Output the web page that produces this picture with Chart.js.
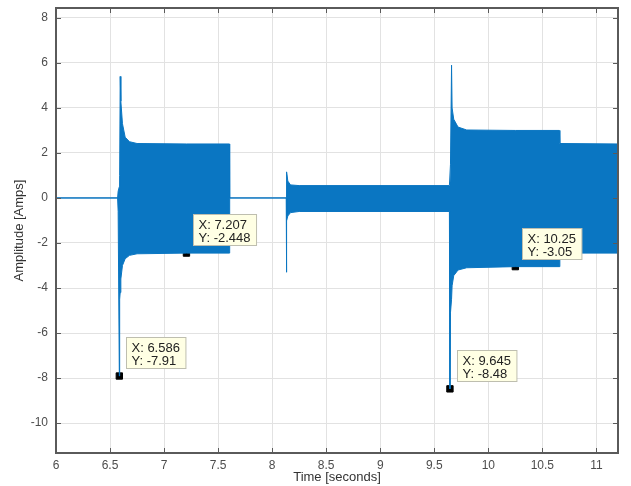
<!DOCTYPE html>
<html>
<head>
<meta charset="utf-8">
<script src="https://cdn.jsdelivr.net/npm/chart.js@4.4.0/dist/chart.umd.min.js"></script>
<style>
  body { margin: 0; background: #fff; }
  #chart { display: block; }
</style>
</head>
<body>
<canvas id="chart" width="631" height="486"></canvas>
<script>
// envelope of the current waveform
const times = [6.000, 6.570, 6.575, 6.586, 6.589, 6.594, 6.600, 6.615, 6.640, 6.680, 6.750, 7.207, 7.605,
               7.607, 8.130, 8.132, 8.135, 8.145, 8.170, 8.250, 9.640, 9.645, 9.650, 9.660, 9.665, 9.680,
               9.720, 9.800, 10.250, 10.657, 10.662, 11.200];
const upper = [0, 0, 0.3, 0.5, 1.0, 5.4, 4.3, 3.3, 2.7, 2.5, 2.42, 2.4, 2.4,
               0, 0, 0.2, 1.16, 0.75, 0.58, 0.55, 0.55, 0.55, 1.5, 5.9, 4.0, 3.5,
               3.15, 3.02, 3.0, 3.0, 2.42, 2.4];
const lower = [0, 0, -0.6, -7.91, -4.5, -4.2, -3.6, -3.0, -2.7, -2.55, -2.48, -2.45, -2.45,
               0, 0, -3.3, -1.0, -0.8, -0.65, -0.6, -0.6, -8.48, -5.1, -4.5, -3.9, -3.45,
               -3.2, -3.1, -3.05, -3.05, -2.45, -2.45];

// data tips
const tipX = [6.586, 7.207, 9.645, 10.25];
const tipY = [-7.91, -2.448, -8.48, -3.05];

const xTicks = [6, 6.5, 7, 7.5, 8, 8.5, 9, 9.5, 10, 10.5, 11];
const yTicks = [-10, -8, -6, -4, -2, 0, 2, 4, 6, 8];

const blue = 'rgb(10,118,194)';
const axisGrey = '#5a5a5a';

// box round the plot and inward ticks, matlab style
const boxPlugin = {
  id: 'box',
  afterDatasetsDraw(c) {
    const {ctx, chartArea: a, scales} = c;
    ctx.save();
    ctx.strokeStyle = axisGrey;
    ctx.lineWidth = 1;
    xTicks.forEach(v => {
      const px = Math.round(scales.x.getPixelForValue(v)) + 0.5;
      ctx.beginPath();
      ctx.moveTo(px, a.bottom); ctx.lineTo(px, a.bottom - 5);
      ctx.moveTo(px, a.top); ctx.lineTo(px, a.top + 5);
      ctx.stroke();
    });
    yTicks.forEach(v => {
      const py = Math.round(scales.y.getPixelForValue(v)) + 0.5;
      ctx.beginPath();
      ctx.moveTo(a.left, py); ctx.lineTo(a.left + 5, py);
      ctx.moveTo(a.right, py); ctx.lineTo(a.right - 5, py);
      ctx.stroke();
    });
    ctx.lineWidth = 2;
    ctx.strokeRect(a.left, a.top, a.right - a.left, a.bottom - a.top);
    ctx.restore();
  }
};

// yellow data tip boxes
const tipPlugin = {
  id: 'tips',
  afterDraw(c) {
    const {ctx, scales} = c;
    ctx.save();
    ctx.font = '13px "Liberation Sans", Arial, sans-serif';
    tipX.forEach((x, i) => {
      const mx = scales.x.getPixelForValue(x);
      const my = scales.y.getPixelForValue(tipY[i]);
      const l1 = 'X: ' + x;
      const l2 = 'Y: ' + tipY[i];
      const w = Math.max(ctx.measureText(l1).width, ctx.measureText(l2).width) + 11;
      const h = 31;
      const bx = Math.round(mx + 7) + 0.5;
      const by = Math.round(my - 8 - h) + 0.5;
      ctx.fillStyle = 'rgb(255,255,228)';
      ctx.strokeStyle = 'rgb(190,190,175)';
      ctx.lineWidth = 1;
      ctx.fillRect(bx, by, w, h);
      ctx.strokeRect(bx, by, w, h);
      ctx.fillStyle = '#222';
      ctx.textBaseline = 'alphabetic';
      ctx.fillText(l1, bx + 5, by + 14);
      ctx.fillText(l2, bx + 5, by + 27);
    });
    ctx.restore();
  }
};

const pts = arr => times.map((t, i) => ({x: t, y: arr[i]}));

new Chart(document.getElementById('chart'), {
  type: 'line',
  data: {
    datasets: [
      {
        data: pts(upper),
        borderColor: blue,
        borderWidth: 1,
        pointRadius: 0,
        fill: false,
        tension: 0
      },
      {
        data: pts(lower),
        borderColor: blue,
        backgroundColor: blue,
        borderWidth: 1,
        pointRadius: 0,
        fill: '-1',
        tension: 0
      },
      {
        type: 'scatter',
        data: tipX.map((x, i) => ({x: x, y: tipY[i]})),
        pointStyle: 'rect',
        pointRadius: 4.5,
        backgroundColor: '#000',
        borderColor: '#000',
        borderWidth: 1
      }
    ]
  },
  options: {
    responsive: false,
    animation: false,
    layout: { padding: { top: 8, right: 13, left: 0, bottom: 0 } },
    plugins: { legend: { display: false }, tooltip: { enabled: false } },
    scales: {
      x: {
        type: 'linear',
        min: 6,
        max: 11.2,
        afterBuildTicks: s => { s.ticks = xTicks.map(v => ({value: v})); },
        afterFit: s => { s.height = 33; },
        grid: { color: '#e2e2e2', drawTicks: false },
        border: { display: false },
        ticks: {
          padding: 5,
          color: '#4d4d4d',
          font: { family: '"Liberation Sans", Arial, sans-serif', size: 12 },
          maxRotation: 0,
          callback: v => v
        },
        title: {
          display: true,
          text: 'Time [seconds]',
          color: '#333',
          padding: { top: 0, bottom: 1 },
          font: { family: '"Liberation Sans", Arial, sans-serif', size: 13 }
        }
      },
      y: {
        min: -11.33,
        max: 8.44,
        afterBuildTicks: s => { s.ticks = yTicks.map(v => ({value: v})); },
        afterFit: s => { s.width = 56; s.paddingTop = 0; s.paddingBottom = 0; },
        grid: { color: '#e2e2e2', drawTicks: false },
        border: { display: false },
        ticks: {
          padding: 8,
          color: '#4d4d4d',
          font: { family: '"Liberation Sans", Arial, sans-serif', size: 12 },
          callback: v => v
        },
        title: {
          display: true,
          text: 'Amplitude [Amps]',
          color: '#333',
          padding: { top: 12, bottom: 0 },
          font: { family: '"Liberation Sans", Arial, sans-serif', size: 13 }
        }
      }
    }
  },
  plugins: [boxPlugin, tipPlugin]
});
</script>
</body>
</html>
